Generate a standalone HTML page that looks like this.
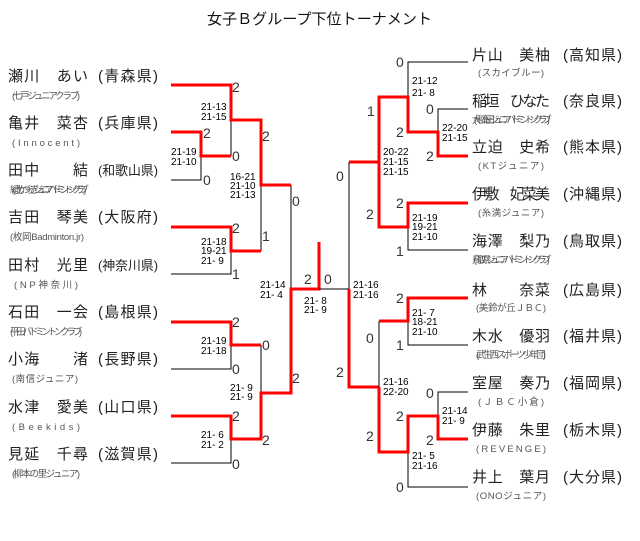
<!DOCTYPE html>
<html><head><meta charset="utf-8"><style>
html,body{margin:0;padding:0;background:#fff;}
svg{display:block;}
text{font-family:"Liberation Sans","Noto Sans CJK JP",sans-serif;}
.t{font-size:15px;fill:#111;}
.n{font-size:15px;fill:#222;}
.p{font-size:15px;fill:#222;}
.p4{font-size:13px;fill:#222;}
.s{font-size:9.5px;fill:#555;}
.d{font-size:14px;fill:#333;}
.m{font-size:10px;fill:#000;font-family:"Liberation Mono","DejaVu Sans Mono",monospace;}
.b{stroke:#000;stroke-width:1;fill:none;}
.r{stroke:#f00;stroke-width:3;fill:none;}
</style></head><body>
<svg width="640" height="541" viewBox="0 0 640 541" xmlns="http://www.w3.org/2000/svg">
<text class="t" x="207" y="24" textLength="225">女子Ｂグループ下位トーナメント</text>

<!-- LEFT names -->
<g>
<text class="n" x="8" y="81" textLength="80">瀬川　あい</text><text class="p" x="98" y="81" textLength="60">(青森県)</text>
<text class="s" x="12" y="99" textLength="68">(七戸ジュニアクラブ)</text>
<text class="n" x="8" y="128" textLength="80">亀井　菜杏</text><text class="p" x="98" y="128" textLength="60">(兵庫県)</text>
<text class="s" x="12" y="146" textLength="68">(Innocent)</text>
<text class="n" x="8" y="175" textLength="80">田中　　結</text><text class="p4" x="98" y="175" textLength="60" lengthAdjust="spacingAndGlyphs">(和歌山県)</text>
<text class="s" x="10" y="193" textLength="74">(紀北かつらぎジュニアバドミントンクラブ)</text>
<text class="n" x="8" y="222" textLength="80">吉田　琴美</text><text class="p" x="98" y="222" textLength="60">(大阪府)</text>
<text class="s" x="10" y="240" textLength="74">(枚岡Badminton.jr)</text>
<text class="n" x="8" y="270" textLength="80">田村　光里</text><text class="p4" x="98" y="270" textLength="60" lengthAdjust="spacingAndGlyphs">(神奈川県)</text>
<text class="s" x="14" y="288" textLength="64">(NP神奈川)</text>
<text class="n" x="8" y="317" textLength="80">石田　一会</text><text class="p" x="98" y="317" textLength="60">(島根県)</text>
<text class="s" x="10" y="335" textLength="72">(平田バドミントンクラブ)</text>
<text class="n" x="8" y="364" textLength="80">小海　　渚</text><text class="p" x="98" y="364" textLength="60">(長野県)</text>
<text class="s" x="12" y="382" textLength="66">(南信ジュニア)</text>
<text class="n" x="8" y="412" textLength="80">水津　愛美</text><text class="p" x="98" y="412" textLength="60">(山口県)</text>
<text class="s" x="12" y="430" textLength="68">(Beekids)</text>
<text class="n" x="8" y="459" textLength="80">見延　千尋</text><text class="p" x="98" y="459" textLength="60">(滋賀県)</text>
<text class="s" x="12" y="477" textLength="68">(柳本の里ジュニア)</text>
</g>

<!-- RIGHT names -->
<g>
<text class="n" x="472" y="60" textLength="78">片山　美柚</text><text class="p" x="563" y="60" textLength="59">(高知県)</text>
<text class="s" x="478" y="76" textLength="66">(スカイブルー)</text>
<text class="n" x="472" y="106" textLength="78">稲垣　ひなた</text><text class="p" x="563" y="106" textLength="59">(奈良県)</text>
<text class="s" x="472" y="123" textLength="76">(大和高田ジュニアバドミントンクラブ)</text>
<text class="n" x="472" y="152" textLength="78">立迫　史希</text><text class="p" x="563" y="152" textLength="59">(熊本県)</text>
<text class="s" x="478" y="169" textLength="66">(KTジュニア)</text>
<text class="n" x="472" y="199" textLength="78">伊敷　妃菜美</text><text class="p" x="563" y="199" textLength="59">(沖縄県)</text>
<text class="s" x="478" y="216" textLength="66">(糸満ジュニア)</text>
<text class="n" x="472" y="246" textLength="78">海澤　梨乃</text><text class="p" x="563" y="246" textLength="59">(鳥取県)</text>
<text class="s" x="472" y="263" textLength="76">(鳥取県ジュニアバドミントンクラブ)</text>
<text class="n" x="472" y="295" textLength="78">林　　奈菜</text><text class="p" x="563" y="295" textLength="59">(広島県)</text>
<text class="s" x="476" y="311" textLength="70">(美鈴が丘ＪＢＣ)</text>
<text class="n" x="472" y="341" textLength="78">木水　優羽</text><text class="p" x="563" y="341" textLength="59">(福井県)</text>
<text class="s" x="476" y="358" textLength="70">(武生西スポーツ少年団)</text>
<text class="n" x="472" y="388" textLength="78">室屋　奏乃</text><text class="p" x="563" y="388" textLength="59">(福岡県)</text>
<text class="s" x="478" y="405" textLength="66">(ＪＢＣ小倉)</text>
<text class="n" x="472" y="435" textLength="78">伊藤　朱里</text><text class="p" x="563" y="435" textLength="59">(栃木県)</text>
<text class="s" x="476" y="452" textLength="70">(REVENGE)</text>
<text class="n" x="472" y="482" textLength="78">井上　葉月</text><text class="p" x="563" y="482" textLength="59">(大分県)</text>
<text class="s" x="476" y="499" textLength="70">(ONOジュニア)</text>
</g>

<!-- LEFT bracket black -->
<path class="b" d="M171 180H201V156 M231 120V156 M261 185V251 M231 251V274H171 M291 185V289 M231 345V369H171 M261 345V393 M231 439V463H171 M201 132V180"/>
<!-- LEFT bracket red -->
<path class="r" d="M171 85H231V120H261V185H291"/>
<path class="r" d="M171 132H201V156H231"/>
<path class="r" d="M171 227H231V251H261"/>
<path class="r" d="M171 322H231V345H261"/>
<path class="r" d="M171 416H231V439H261V393H291V289H319V242"/>

<!-- center -->
<path class="b" d="M319 289H349V162"/>
<path class="r" d="M349 162H379"/>
<path class="r" d="M349 289V387H379"/>

<!-- RIGHT bracket black -->
<path class="b" d="M468 62H408V97 M468 109H438V132 M408 227V250H468 M408 321V345H468 M379 321V387 M468 392H438V416 M408 452V487H468"/>
<!-- RIGHT red -->
<path class="r" d="M468 156H438V132H408V97H379V227H408V203H468"/>
<path class="r" d="M468 298H408V321H379"/>
<path class="r" d="M468 439H438V416H408V452H379V387"/>

<!-- big scores left -->
<g class="d">
<text x="232" y="92">2</text><text x="203" y="138">2</text><text x="232" y="161">0</text><text x="203" y="185">0</text>
<text x="262" y="141">2</text><text x="292" y="206">0</text><text x="232" y="233">2</text><text x="262" y="241">1</text><text x="232" y="279">1</text>
<text x="304" y="284">2</text><text x="324" y="284">0</text>
<text x="232" y="327">2</text><text x="262" y="350">0</text><text x="232" y="374">0</text><text x="292" y="383">2</text>
<text x="232" y="421">2</text><text x="262" y="445">2</text><text x="232" y="469">0</text>
</g>
<!-- big scores right -->
<g class="d">
<text x="396" y="67">0</text><text x="426" y="114">0</text><text x="396" y="137">2</text><text x="426" y="161">2</text>
<text x="367" y="116">1</text><text x="396" y="208">2</text><text x="366" y="219">2</text><text x="396" y="256">1</text>
<text x="336" y="181">0</text><text x="336" y="377">2</text>
<text x="396" y="303">2</text><text x="366" y="343">0</text><text x="396" y="350">1</text>
<text x="426" y="398">0</text><text x="396" y="421">2</text><text x="426" y="445">2</text><text x="366" y="441">2</text><text x="396" y="492">0</text>
</g>

<!-- match scores -->
<g class="m">
<text x="201" y="110">21-13</text><text x="201" y="120">21-15</text>
<text x="171" y="155">21-19</text><text x="171" y="165">21-10</text>
<text x="230" y="180">16-21</text><text x="230" y="189">21-10</text><text x="230" y="198">21-13</text>
<text x="201" y="245">21-18</text><text x="201" y="254">19-21</text><text x="201" y="264">21- 9</text>
<text x="260" y="288">21-14</text><text x="260" y="298">21- 4</text>
<text x="304" y="304">21- 8</text><text x="304" y="313">21- 9</text>
<text x="201" y="344">21-19</text><text x="201" y="354">21-18</text>
<text x="230" y="391">21- 9</text><text x="230" y="400">21- 9</text>
<text x="201" y="438">21- 6</text><text x="201" y="448">21- 2</text>

<text x="412" y="84">21-12</text><text x="412" y="96">21- 8</text>
<text x="442" y="131">22-20</text><text x="442" y="141">21-15</text>
<text x="383" y="155">20-22</text><text x="383" y="165">21-15</text><text x="383" y="175">21-15</text>
<text x="412" y="221">21-19</text><text x="412" y="230">19-21</text><text x="412" y="240">21-10</text>
<text x="353" y="288">21-16</text><text x="353" y="298">21-16</text>
<text x="412" y="316">21- 7</text><text x="412" y="325">18-21</text><text x="412" y="335">21-10</text>
<text x="383" y="385">21-16</text><text x="383" y="395">22-20</text>
<text x="442" y="414">21-14</text><text x="442" y="424">21- 9</text>
<text x="412" y="459">21- 5</text><text x="412" y="469">21-16</text>
</g>
</svg>
</body></html>
